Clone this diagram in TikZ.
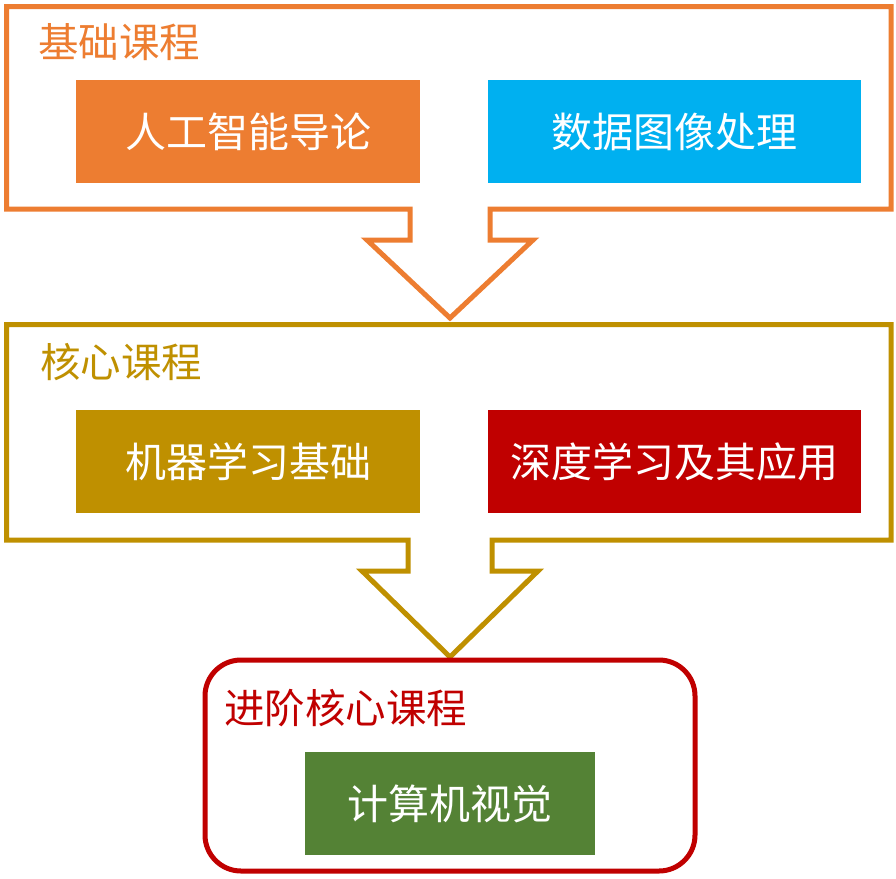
\documentclass[tikz,border=0pt]{standalone}
\usepackage{fontspec}
\newfontfamily\cjk{Noto Sans CJK SC}
\definecolor{corange}{HTML}{ED7D31}
\definecolor{cblue}{HTML}{00B0F0}
\definecolor{cgold}{HTML}{BF9000}
\definecolor{cred}{HTML}{C00000}
\definecolor{cgreen}{HTML}{548235}
\begin{document}
\begin{tikzpicture}[x=1pt,y=-1pt,
  frame/.style={line width=5pt, line join=miter, fill=white},
  title/.style={anchor=west, inner sep=0pt, font=\cjk\fontsize{40.5}{44}\selectfont},
  course/.style={minimum height=103pt, inner sep=0pt, text=white, font=\cjk\fontsize{41}{45}\selectfont}]
\useasboundingbox (0,0) rectangle (896,878);
% frame 1 with arrow
\draw[frame, draw=corange] (6.5,6.5) -- (891,6.5) -- (891,209) -- (490,209) -- (490,240) -- (533,240) -- (450,318) -- (367,240) -- (410,240) -- (410,209) -- (6.5,209) -- cycle;
% frame 2 with arrow
\draw[frame, draw=cgold] (6.5,324.5) -- (891,324.5) -- (891,540) -- (492,540) -- (492,571) -- (538,571) -- (450,657) -- (362,571) -- (408,571) -- (408,540) -- (6.5,540) -- cycle;
% frame 3
\draw[frame, draw=cred, rounded corners=36pt] (205,660) rectangle (695,871);
% titles
\node[title, text=corange] (t1) at (38,42) {基础课程};
\node[title, text=cgold] (t2) at (40,362) {核心课程};
\node[title, text=cred] (t3) at (224,708) {进阶核心课程};
% courses
\node[course, fill=corange, minimum width=344pt] (c1) at (248,131.5) {人工智能导论};
\node[course, fill=cblue, minimum width=373pt] (c2) at (674.5,131.5) {数据图像处理};
\node[course, fill=cgold, minimum width=344pt] (c3) at (248,461.5) {机器学习基础};
\node[course, fill=cred, minimum width=373pt] (c4) at (674.5,461.5) {深度学习及其应用};
\node[course, fill=cgreen, minimum width=290pt] (c5) at (450,803.5) {计算机视觉};
\end{tikzpicture}
\end{document}
